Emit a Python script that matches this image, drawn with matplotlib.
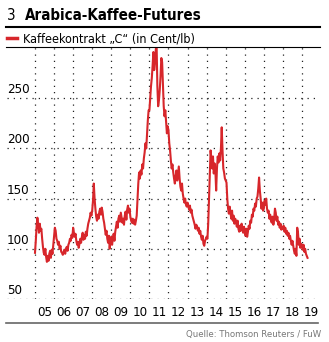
import numpy as np
import matplotlib
matplotlib.use("Agg")
import matplotlib.pyplot as plt
import matplotlib.transforms as mtransforms
from matplotlib.lines import Line2D
from matplotlib import font_manager as fm

# narrow font if available
names = {f.name for f in fm.fontManager.ttflist}
cond_path = fm.findfont(fm.FontProperties(family='DejaVu Sans', stretch='condensed'))
if 'Liberation Sans Narrow' in names:
    plt.rcParams['font.family'] = ['Liberation Sans Narrow', 'DejaVu Sans']
    scale = 1.1
elif 'Condensed' in cond_path:
    plt.rcParams['font.family'] = ['DejaVu Sans']
    plt.rcParams['font.stretch'] = 'condensed'
    scale = 1.0
else:
    plt.rcParams['font.family'] = ['Roboto', 'DejaVu Sans']
    scale = 0.95

# Kaffeekontrakt "C", Cent/lb, zwei Werte pro Monat
p2005 = [96, 108, 122, 131, 124, 116, 125, 118, 120, 110, 102, 96,
         94, 100, 92, 87, 93, 88, 95, 98, 91, 99, 95, 104]
p2006 = [112, 121, 118, 110, 108, 104, 107, 100, 103, 97, 96, 94,
         97, 99, 95, 100, 102, 98, 104, 106, 110, 108, 114, 111]
p2007 = [121, 116, 112, 115, 108, 104, 107, 101, 105, 110, 106, 112,
         116, 109, 114, 110, 117, 113, 120, 125, 128, 131, 136, 133]
p2008 = [138, 148, 165, 150, 140, 132, 128, 134, 130, 137, 140, 134,
         141, 137, 130, 126, 120, 114, 118, 110, 106, 113, 100, 108]
p2009 = [112, 104, 110, 115, 108, 117, 122, 127, 121, 130, 133, 127,
         136, 131, 126, 130, 124, 133, 137, 129, 139, 143, 136, 140]
p2010 = [132, 128, 126, 130, 125, 129, 124, 128, 133, 150, 165, 176,
         170, 178, 174, 184, 180, 190, 196, 205, 200, 214, 228, 238]
p2011 = [238, 250, 262, 270, 282, 296, 278, 285, 298, 305, 262, 242,
         248, 258, 272, 290, 286, 265, 242, 232, 238, 226, 215, 222]
p2012 = [218, 205, 198, 188, 180, 184, 176, 170, 165, 172, 178, 168,
         175, 182, 170, 162, 158, 165, 155, 150, 146, 150, 144, 142]
p2013 = [146, 142, 139, 143, 136, 139, 133, 130, 127, 124, 120, 124,
         122, 118, 121, 115, 118, 112, 109, 113, 105, 103, 108, 110]
p2014 = [112, 110, 125, 150, 172, 198, 190, 180, 192, 175, 185, 178,
         158, 180, 192, 186, 195, 188, 200, 221, 198, 180, 176, 170]
p2015 = [168, 166, 150, 140, 135, 142, 136, 130, 138, 128, 133, 125,
         130, 127, 122, 128, 120, 117, 123, 118, 125, 120, 116, 122]
p2016 = [118, 113, 120, 112, 117, 123, 120, 128, 126, 134, 132, 140,
         138, 145, 142, 150, 152, 160, 171, 158, 150, 140, 146, 138]
p2017 = [140, 148, 144, 150, 140, 136, 138, 130, 134, 128, 126, 132,
         124, 130, 140, 136, 128, 132, 124, 127, 121, 125, 119, 122]
p2018 = [120, 123, 117, 121, 115, 118, 113, 116, 110, 113, 108, 104,
         108, 103, 98, 95, 100, 93, 121, 116, 104, 110, 101, 105]
p2019 = [103, 99, 104, 97, 100, 95, 93, 91]

year_labels = ['05', '06', '07', '08', '09', '10', '11', '12',
               '13', '14', '15', '16', '17', '18', '19']
y_ticks = [50, 100, 150, 200, 250]

prices = np.array(p2005 + p2006 + p2007 + p2008 + p2009 + p2010 + p2011 + p2012
                  + p2013 + p2014 + p2015 + p2016 + p2017 + p2018 + p2019, dtype=float)
t = 2005 + np.arange(len(prices)) / 24.0

red = '#d7262b'
W, H = 329, 342
fig = plt.figure(figsize=(W / 100, H / 100), dpi=100)
ax = fig.add_axes([7 / W, 1 - 299 / H, 310 / W, 252 / H])

ax.plot(t, prices, color=red, lw=1.5, solid_joinstyle='round')

ax.set_xlim(2003.532, 2019.788)
ax.set_ylim(50, 301)

years = np.arange(2005, 2020)
ax.set_xticks(years, minor=True)
ax.set_xticks(years + 0.5)
ax.set_xticklabels(year_labels, fontsize=9.5 * scale)
ax.tick_params(axis='x', which='both', length=0, pad=5)
ax.set_yticks(y_ticks)
ax.set_yticklabels([])
ax.tick_params(axis='y', length=0)
ax.grid(which='minor', axis='x', color='#222222', lw=0.9, ls=(0, (1, 4)))
ax.grid(which='major', axis='y', color='#222222', lw=0.9, ls=(0, (1, 4)))
ax.grid(which='major', axis='x', visible=False)
for s in ax.spines.values():
    s.set_visible(False)

trans = mtransforms.blended_transform_factory(ax.transAxes, ax.transData)
for v in y_ticks:
    ax.text(0, v + 2, str(v), transform=trans, ha='left', va='bottom',
            fontsize=9.5 * scale)

# header
fig.text(7 / W, 1 - 19.5 / H, '3', fontsize=10.8 * scale, va='baseline', ha='left')
fig.text(25 / W, 1 - 19.5 / H, 'Arabica-Kaffee-Futures', fontsize=10.8 * scale,
         fontweight='bold', va='baseline', ha='left')
fig.add_artist(Line2D([6 / W, 320 / W], [1 - 26.7 / H] * 2, color='black', lw=1.5))
fig.add_artist(Line2D([7 / W, 17 / W], [1 - 38 / H] * 2, color=red, lw=2.5))
fig.text(23 / W, 1 - 42.7 / H, 'Kaffeekontrakt \u201eC\u201c (in Cent/lb)',
         fontsize=9 * scale, va='baseline', ha='left')
fig.add_artist(Line2D([6 / W, 320 / W], [1 - 46.7 / H] * 2, color='black', lw=0.8))

# footer
fig.add_artist(Line2D([6 / W, 318 / W], [1 - 323 / H] * 2, color='#666666', lw=1.2))
fig.text(321 / W, 1 - 337 / H, 'Quelle: Thomson Reuters / FuW', fontsize=6.8 * scale,
         color='#777777', va='baseline', ha='right')

fig.savefig('out.png', dpi=100)
